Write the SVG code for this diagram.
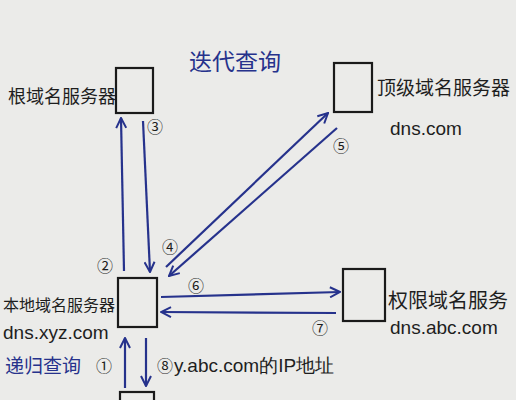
<svg xmlns="http://www.w3.org/2000/svg" width="516" height="400" viewBox="0 0 516 400">
<style>
.box{fill:none;stroke:#1a1a1a;stroke-width:2.2}
.lbl{font-family:"Noto Sans CJK SC","Noto Sans",sans-serif;fill:#1e1e1e}
.dns{font-family:"Liberation Sans","Noto Sans",sans-serif;fill:#1e1e1e;font-size:19px}
.blue{font-family:"Noto Sans CJK SC","Noto Sans",sans-serif;fill:#26328c}
.num{font-family:"Noto Sans CJK SC","DejaVu Sans",sans-serif;fill:#1e1e1e;font-size:16px;text-anchor:middle}
.ln{stroke:#26328c;stroke-width:2.2;fill:none;marker-end:url(#ah)}
</style>
<defs>
<marker id="ah" viewBox="0 0 12 12" refX="11" refY="6" markerWidth="12" markerHeight="12" markerUnits="userSpaceOnUse" orient="auto">
<path d="M1,1 L11,6 L1,11" fill="none" stroke="#26328c" stroke-width="2"/>
</marker>
</defs>
<rect width="516" height="400" fill="#ebebe9"/>
<text class="blue" x="235" y="70" font-size="23" text-anchor="middle">迭代查询</text>
<g id="root">
<rect class="box" x="116" y="68" width="37" height="45"/>
<text class="lbl" x="8" y="103" font-size="18">根域名服务器</text>
</g>
<g id="tld">
<rect class="box" x="334" y="63" width="38" height="49"/>
<text class="lbl" x="377" y="95" font-size="19">顶级域名服务器</text>
<text class="dns" x="390" y="135">dns.com</text>
</g>
<g id="local">
<rect class="box" x="118" y="278" width="39" height="49"/>
<text class="lbl" x="3" y="311" font-size="16">本地域名服务器</text>
<text class="dns" x="3" y="339" font-size="18">dns.xyz.com</text>
<text class="blue" x="5" y="373" font-size="19">递归查询</text>
</g>
<g id="auth">
<rect class="box" x="343" y="269" width="42" height="52"/>
<text class="lbl" x="388" y="308" font-size="20">权限域名服务</text>
<text class="dns" x="390" y="334">dns.abc.com</text>
</g>
<g id="client">
<rect class="box" x="120" y="392" width="34" height="20"/>
</g>
<g id="connectors">
<path class="ln" d="M124,271 L121,118"/>
<path class="ln" d="M143,121 L150,272"/>
<path class="ln" d="M166,267 L328,113"/>
<path class="ln" d="M337,128 L169,276"/>
<path class="ln" d="M161,297 L340,292"/>
<path class="ln" d="M336,313 L161,312"/>
<path class="ln" d="M125,388 L125,338"/>
<path class="ln" d="M146,338 L146,386"/>
</g>
<g id="labels">
<text class="num" x="104" y="372">①</text>
<text class="num" x="105" y="272">②</text>
<text class="num" x="155" y="133">③</text>
<text class="num" x="170" y="253">④</text>
<text class="num" x="341" y="152">⑤</text>
<text class="num" x="196" y="292">⑥</text>
<text class="num" x="320" y="334">⑦</text>
<text class="num" x="165" y="372">⑧</text>
<text class="dns" x="174" y="372">y.abc.com的IP地址</text>
</g>
</svg>
